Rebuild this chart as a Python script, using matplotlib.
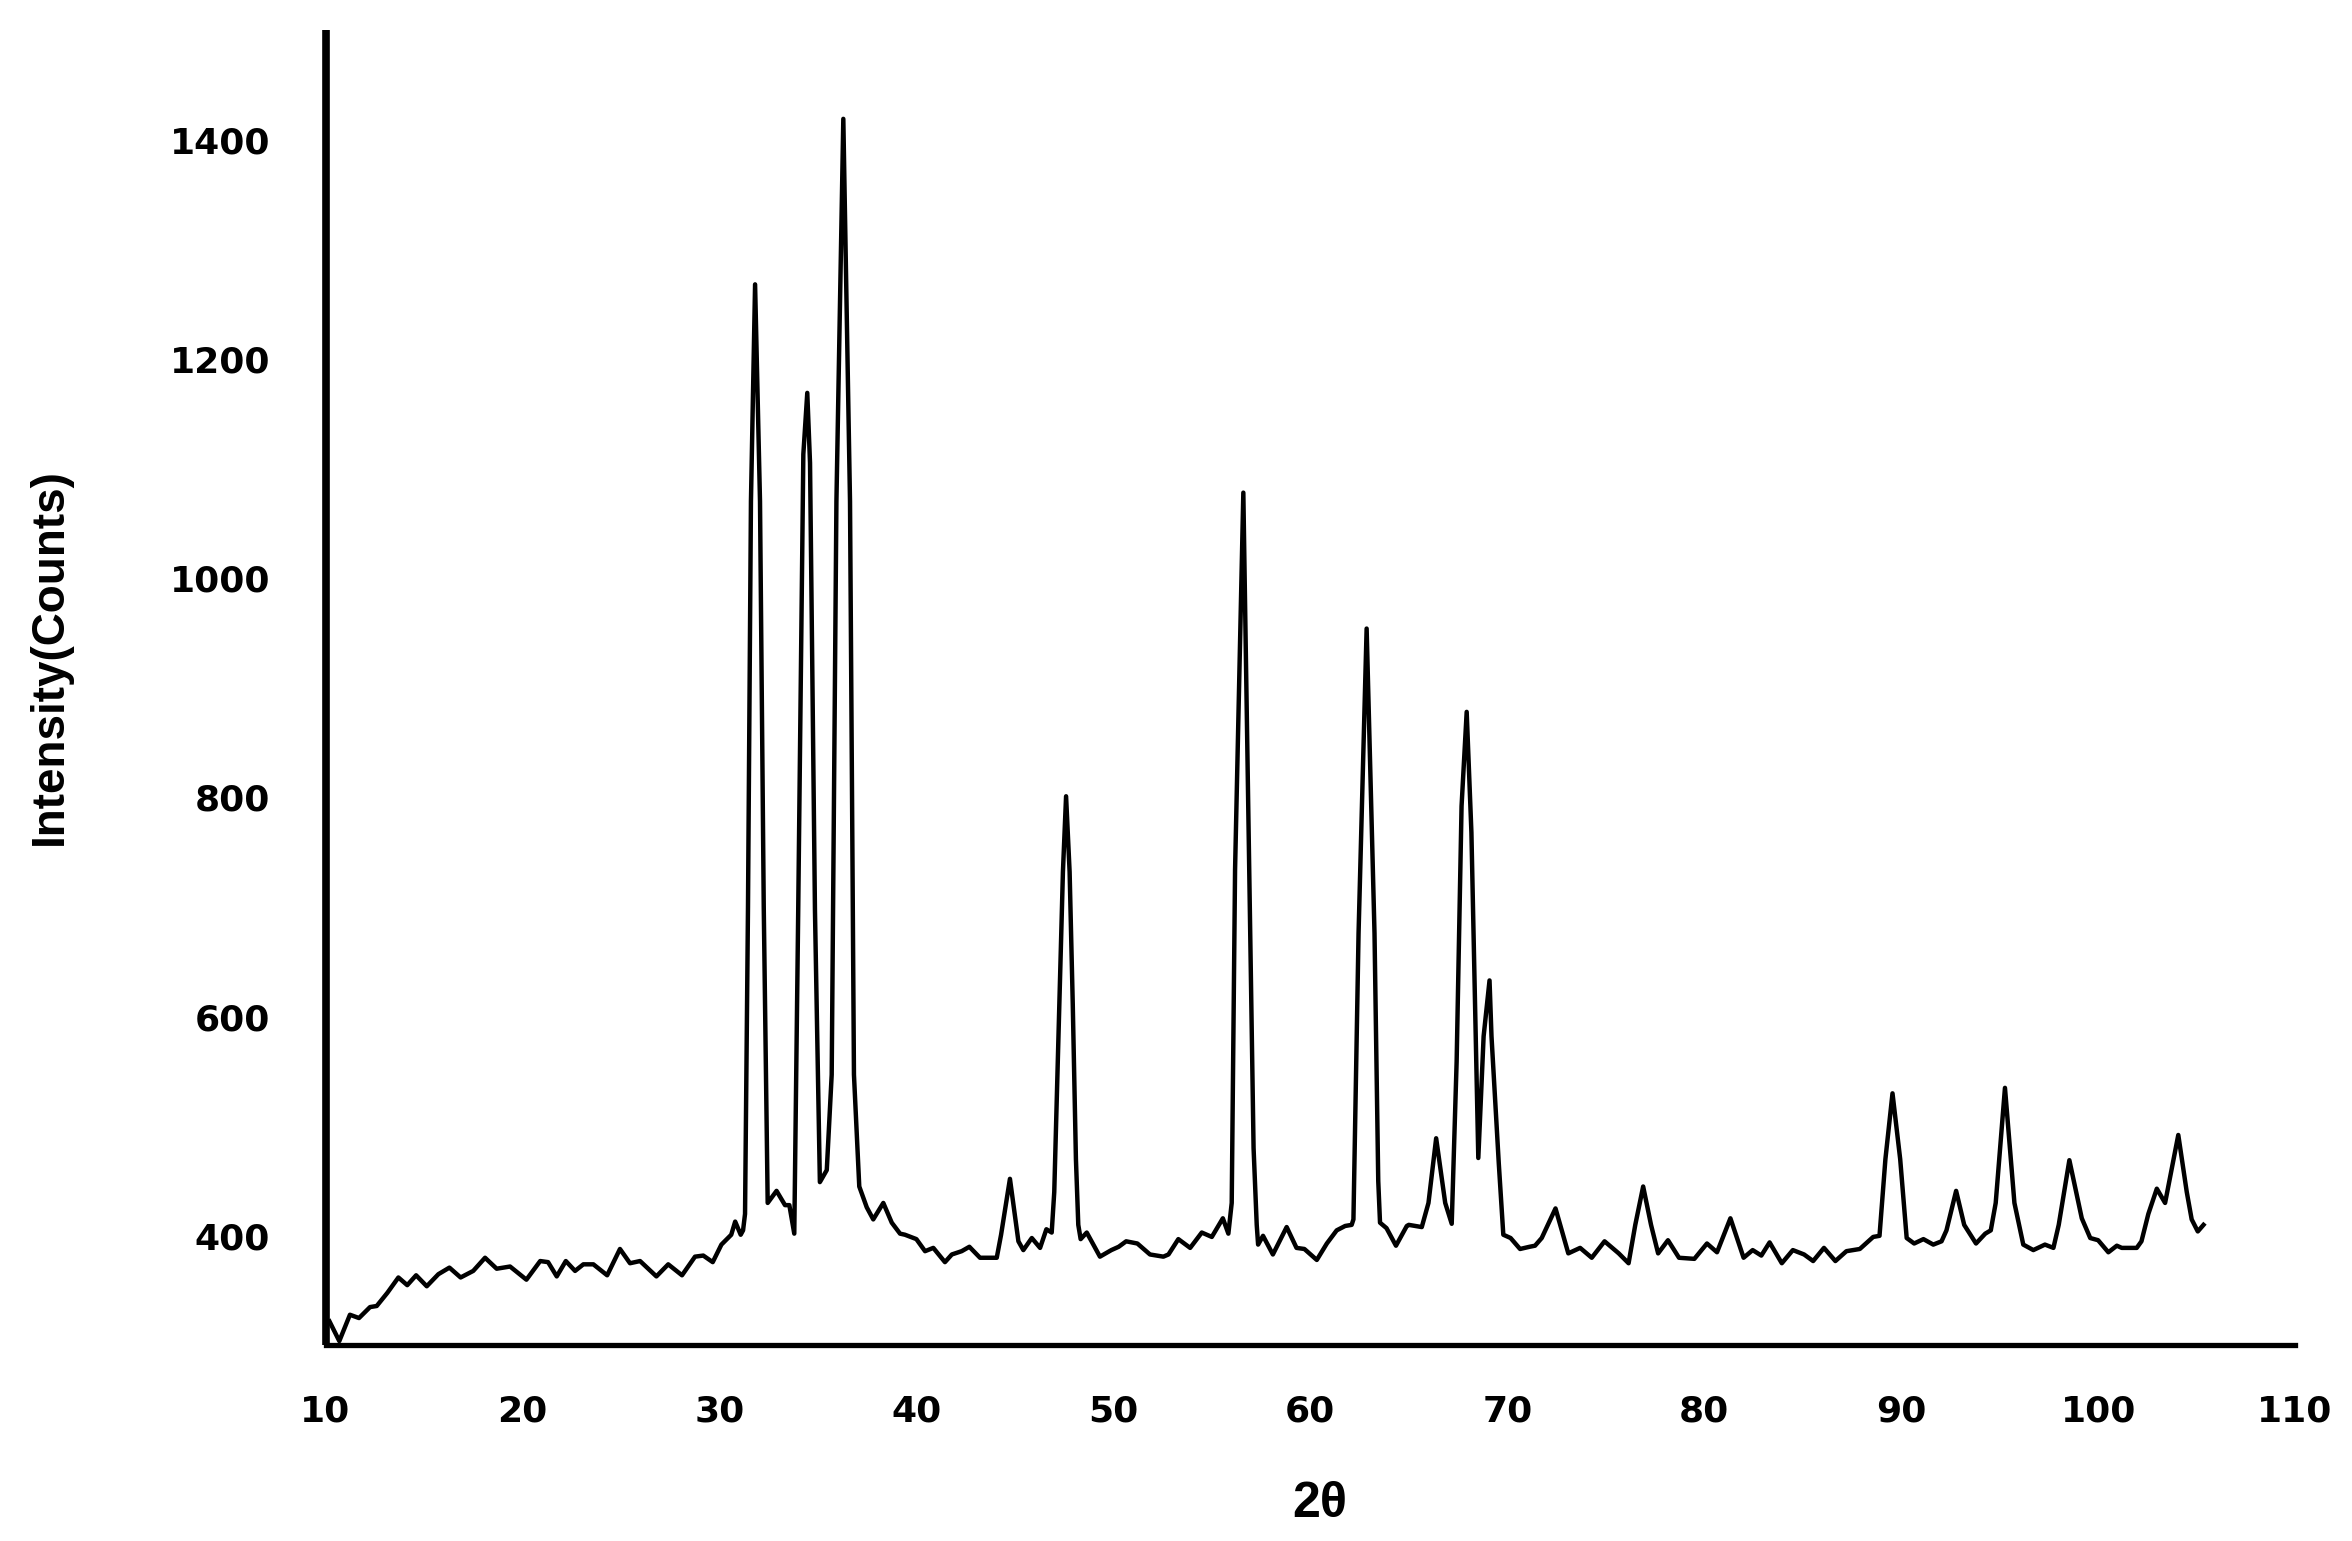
"""
XRD pattern: intensity vs 2-theta.
Values read off the reference picture.
"""

import matplotlib
matplotlib.use("Agg")
import matplotlib.pyplot as plt

two_theta = [
    10.2, 10.7, 11.24, 11.7, 12.26, 12.6, 13.14, 13.7, 14.15, 14.6, 15.14, 15.73,
    16.29, 16.86, 17.5, 18.1, 18.69, 19.37, 20.2, 20.9, 21.3, 21.74, 22.2, 22.67,
    23.09, 23.6, 24.3, 24.95, 25.46, 25.97, 26.8, 27.4, 28.1, 28.76, 29.18, 29.66,
    30.1, 30.6, 30.8, 31.08, 31.2,
    31.3, 31.45, 31.6, 31.81, 32.06, 32.25, 32.45,
    32.9, 33.33, 33.55, 33.8,
    34.0, 34.26, 34.46, 34.6, 34.85, 35.1, 35.45,
    35.7, 35.94, 36.29, 36.63, 36.83, 37.1, 37.48, 37.81, 38.32, 38.75, 39.17,
    39.42, 40.0, 40.44, 40.86, 41.45, 41.8, 42.3, 42.69, 43.23, 43.74, 44.08,
    44.3, 44.75, 45.18, 45.43, 45.86, 46.28, 46.6, 46.87,
    47.0, 47.26, 47.44, 47.6, 47.78, 47.94, 48.1, 48.22, 48.34, 48.65, 49.32,
    49.9, 50.27, 50.65, 51.22, 51.86, 52.54, 52.8, 53.3, 53.9, 54.49, 55.0,
    55.56, 55.84,
    56.01, 56.18, 56.6, 56.9, 57.12, 57.28, 57.35, 57.6, 58.1, 58.8, 59.3, 59.7,
    60.33, 60.84, 61.34, 61.77, 62.1,
    62.19, 62.45, 62.86, 63.26, 63.45, 63.54, 63.87, 64.35, 64.9, 65.0, 65.66,
    66.0, 66.39, 66.85, 67.18,
    67.43, 67.68, 67.94, 68.18, 68.53, 68.8, 69.1, 69.2, 69.57, 69.8, 70.17,
    70.65, 71.13, 71.41, 71.75, 72.45, 73.1, 73.7, 74.29, 74.94, 75.66, 76.16,
    76.5, 76.9, 77.3, 77.66, 78.16, 78.72, 79.5, 80.14, 80.65, 81.33, 82.0,
    82.46, 82.9, 83.32, 83.94, 84.5, 85.07, 85.53, 86.08, 86.66, 87.22, 87.9,
    88.58, 88.9, 89.2, 89.56, 89.95, 90.28, 90.66, 91.13, 91.63, 92.05, 92.3,
    92.79, 93.2, 93.8, 94.27, 94.55, 94.8, 95.27, 95.75, 96.2, 96.71, 97.3,
    97.73, 98.0, 98.54, 99.17, 99.6, 100.0, 100.52, 100.95, 101.2, 101.96,
    102.2, 102.55, 102.98, 103.4, 104.07, 104.5, 104.75, 105.06, 105.35,
]

intensity = [
    322, 304, 328, 325, 335, 336, 348, 362, 355, 364, 354, 365,
    371, 362, 368, 380, 370, 372, 360, 377, 376, 363, 377, 368,
    374, 374, 364, 388, 375, 377, 363, 374, 364, 381, 382, 376,
    392, 401, 413, 401, 405,
    420, 700, 1070, 1268, 1070, 700, 430,
    441, 428, 428, 402,
    697, 1113, 1169, 1105, 697, 449, 460,
    547, 1070, 1419, 1070, 547, 445, 426, 415, 430, 412, 402,
    401, 397, 386, 389, 376, 383, 386, 390, 380, 380, 380,
    401, 452, 395, 387, 398, 389, 406, 403,
    440, 611, 732, 801, 732, 611, 470, 410, 397, 403, 381,
    387, 390, 395, 393, 383, 381, 383, 397, 389, 403, 399,
    416, 402,
    430, 734, 1078, 734, 480, 410, 392, 400, 383, 408, 389, 388,
    378, 393, 405, 409, 410,
    415, 676, 954, 676, 450, 412, 407, 391, 409, 410, 408,
    430, 489, 430, 411,
    559, 792, 878, 768, 471, 582, 633, 582, 466, 401, 398,
    388, 390, 391, 398, 425, 384, 389, 380, 395, 384, 375,
    410, 445, 410, 384, 396, 380, 379, 393, 385, 416, 380,
    387, 382, 394, 375, 387, 383, 377, 389, 377, 386, 388,
    399, 400, 470, 530, 470, 398, 393, 397, 392, 395, 405,
    441, 410, 393, 402, 405, 430, 535, 430, 392, 387, 392,
    389, 410, 469, 416, 398, 396, 385, 391, 389, 389,
    395, 420, 443, 430, 492, 440, 415, 404, 410,
]

x_ticks = [10, 20, 30, 40, 50, 60, 70, 80, 90, 100, 110]
y_ticks = [400, 600, 800, 1000, 1200, 1400]


def main():
    fig = plt.figure(figsize=(23.52, 15.41), dpi=100)
    ax = fig.add_axes([0.1384, 0.1269, 0.9758 - 0.1384, 0.9805 - 0.1269])

    ax.plot(two_theta, intensity, color="black", linewidth=3.2,
            solid_joinstyle="round")

    ax.set_xlim(10, 110)
    ax.set_ylim(300, 1500)
    ax.set_xticks(x_ticks)
    ax.set_yticks(y_ticks)

    for side in ["top", "right"]:
        ax.spines[side].set_visible(False)
    ax.spines["left"].set_linewidth(5.5)
    ax.spines["bottom"].set_linewidth(3.8)
    ax.spines["left"].set_capstyle("butt")

    ax.tick_params(axis="both", length=0)
    ax.tick_params(axis="y", pad=40)
    ax.tick_params(axis="x", pad=35)
    for lab in ax.get_xticklabels() + ax.get_yticklabels():
        lab.set_fontfamily("DejaVu Sans")
        lab.set_fontweight("bold")
        lab.set_fontsize(26)

    ax.set_ylabel("Intensity(Counts)", fontsize=33, fontweight="bold",
                  family=["Liberation Sans", "DejaVu Sans"])
    ax.yaxis.set_label_coords(-0.129, 0.524)
    ax.set_xlabel("2θ", fontsize=36, fontweight="bold",
                  family=["Liberation Sans", "DejaVu Sans"])
    ax.xaxis.set_label_coords(0.505, -0.103)

    fig.savefig("out.png", dpi=100)


if __name__ == "__main__":
    main()
